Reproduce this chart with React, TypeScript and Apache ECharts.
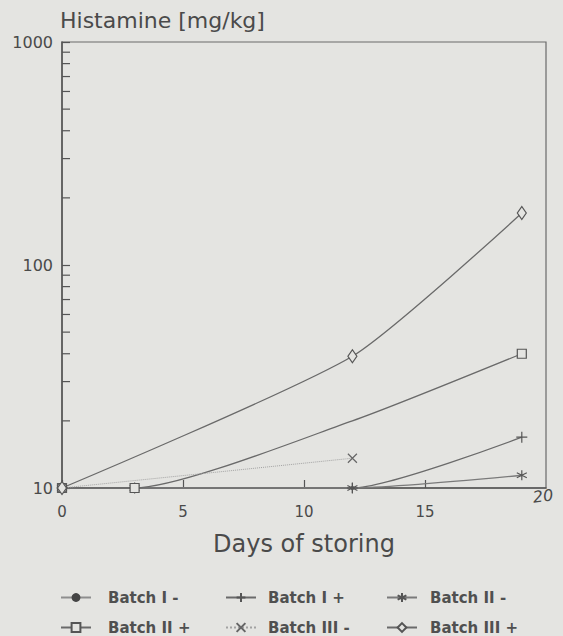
import React, { useEffect, useRef } from "react";
import * as echarts from "echarts";

const BG = "#e4e4e1";
const INK = "#4a4a4a";
const DARK = "#6a6a6a";
const LIGHT = "#8e8e8e";
const FONT = "DejaVu Sans";

const seriesNames = ["Batch I -", "Batch I +", "Batch II -", "Batch II +", "Batch III -", "Batch III +"];

// [day, histamine mg/kg]
const batchIMinus: number[][] = [[0, 10], [3, 10], [12, 10]];
const batchIPlus: number[][] = [[0, 10], [3, 10], [12, 10], [19, 16.9]];
const batchIIMinus: number[][] = [[0, 10], [3, 10], [12, 10], [19, 11.4]];
const batchIIPlus: number[][] = [[0, 10], [3, 10], [12, 20], [19, 40]];
const batchIIPlusHiddenMarkerDay = 12;
const batchIIIMinus: number[][] = [[0, 10], [12, 13.6]];
const batchIIIPlus: number[][] = [[0, 10], [12, 39], [19, 171]];

const xTicks = [0, 5, 10, 15, 20];
const yMinorTicks = [20, 30, 40, 50, 60, 70, 80, 90, 200, 300, 400, 500, 600, 700, 800, 900];

const PLUS = "path://M5 0V10M0 5H10";
const CROSS = "path://M0 0L10 10M0 10L10 0";
const STAR = "path://M5 0V10M0.7 2.5L9.3 7.5M0.7 7.5L9.3 2.5";

export default function App() {
  const ref = useRef<HTMLDivElement>(null);
  useEffect(() => {
    document.body.style.margin = "0";
    document.body.style.background = BG;
    const chart = echarts.init(ref.current!, null, { renderer: "svg" });

    const base = (name: string) => ({
      name,
      type: "line",
      smooth: 0.2,
      z: 3,
    });

    const legendPos = [
      { left: 60, top: 590, pad: 12 },
      { left: 225, top: 590, pad: 7 },
      { left: 386, top: 590, pad: 8 },
      { left: 60, top: 620, pad: 12 },
      { left: 225, top: 620, pad: 7 },
      { left: 386, top: 620, pad: 8 },
    ];

    const option: any = {
      animation: false,
      backgroundColor: BG,
      textStyle: { fontFamily: FONT },
      title: {
        text: "Histamine [mg/kg]",
        left: 60,
        top: 9,
        padding: 0,
        textStyle: { fontSize: 22, fontWeight: "normal", color: INK, fontFamily: FONT },
      },
      grid: {
        left: 62,
        right: 17,
        top: 42,
        bottom: 148,
        show: true,
        borderColor: DARK,
        borderWidth: 1.2,
        backgroundColor: "transparent",
      },
      legend: seriesNames.map((n, i) => ({
        data: [n],
        left: legendPos[i].left,
        top: legendPos[i].top,
        padding: 0,
        itemWidth: 30,
        itemHeight: 11,
        selectedMode: false,
        textStyle: {
          fontSize: 15,
          fontWeight: "bold",
          color: "#505050",
          fontFamily: FONT,
          padding: [0, 0, 0, legendPos[i].pad],
        },
      })),
      xAxis: {
        type: "value",
        min: xTicks[0],
        max: xTicks[xTicks.length - 1],
        interval: 5,
        name: "Days of storing",
        nameLocation: "middle",
        nameGap: 44,
        nameTextStyle: { fontSize: 24, color: INK, fontFamily: FONT },
        axisLine: { lineStyle: { color: "#555", width: 1.5 } },
        axisTick: { inside: true, length: 8, lineStyle: { color: "#555", width: 1.2 } },
        axisLabel: { fontSize: 15, color: INK, margin: 16, showMaxLabel: false, fontFamily: FONT },
        splitLine: { show: false },
      },
      yAxis: {
        type: "log",
        logBase: 10,
        min: 10,
        max: 1000,
        axisLine: { show: true, lineStyle: { color: "#555", width: 1.5 } },
        axisTick: { show: true, inside: true, length: 8, lineStyle: { color: "#555", width: 1.2 } },
        axisLabel: {
          fontSize: 16,
          color: INK,
          margin: 9,
          fontFamily: FONT,
          formatter: (v: number) => String(Math.round(v)),
        },
        splitLine: { show: false },
      },
      graphic: [
        {
          type: "text",
          x: 543,
          y: 496,
          rotation: 0.12,
          style: {
            text: "20",
            fontSize: 16,
            fontStyle: "italic",
            fill: INK,
            fontFamily: FONT,
            align: "center",
            verticalAlign: "middle",
          },
        },
      ],
      series: [
        {
          type: "custom",
          silent: true,
          z: 2,
          data: yMinorTicks.map((v) => [0, v]),
          renderItem: (params: any, api: any) => {
            const p = api.coord([api.value(0), api.value(1)]);
            return {
              type: "line",
              shape: { x1: p[0], y1: p[1], x2: p[0] + 8, y2: p[1] },
              style: { stroke: "#555", lineWidth: 1.2 },
            };
          },
        },
        {
          ...base(seriesNames[0]),
          data: batchIMinus,
          symbol: "circle",
          symbolSize: 4,
          lineStyle: { color: LIGHT, width: 1.2 },
          itemStyle: { color: "#444" },
        },
        {
          ...base(seriesNames[1]),
          data: batchIPlus,
          symbol: PLUS,
          symbolSize: 11,
          lineStyle: { color: DARK, width: 1.3 },
          itemStyle: { color: "#555", borderColor: "#555", borderWidth: 1.2 },
        },
        {
          ...base(seriesNames[2]),
          data: batchIIMinus,
          symbol: STAR,
          symbolSize: 10,
          lineStyle: { color: "#7a7a7a", width: 1.4 },
          itemStyle: { color: "#555", borderColor: "#555", borderWidth: 1.2 },
        },
        {
          ...base(seriesNames[3]),
          data: batchIIPlus.map((d) =>
            d[0] === batchIIPlusHiddenMarkerDay ? { value: d, symbol: "none" } : { value: d }
          ),
          symbol: "rect",
          symbolSize: 9,
          lineStyle: { color: DARK, width: 1.3 },
          itemStyle: { color: BG, borderColor: "#555", borderWidth: 1.2 },
        },
        {
          ...base(seriesNames[4]),
          data: batchIIIMinus,
          symbol: CROSS,
          symbolSize: 9,
          lineStyle: { color: "#a2a2a2", width: 1, type: "dotted" },
          itemStyle: { color: "#666", borderColor: "#666", borderWidth: 1.2 },
        },
        {
          ...base(seriesNames[5]),
          data: batchIIIPlus,
          symbol: "diamond",
          symbolSize: [9, 13],
          lineStyle: { color: DARK, width: 1.3 },
          itemStyle: { color: BG, borderColor: "#555", borderWidth: 1.2 },
        },
      ],
    };
    chart.setOption(option);
    return () => chart.dispose();
  }, []);
  return (
    <div
      ref={ref}
      style={{ position: "absolute", left: 0, top: 0, width: 563, height: 636, background: BG }}
    />
  );
}
